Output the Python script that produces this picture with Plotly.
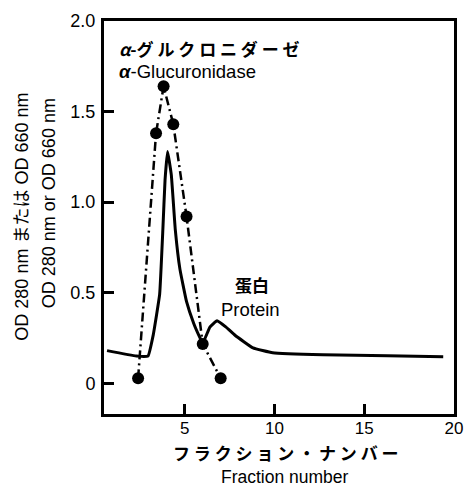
import plotly.graph_objects as go

# Data
protein_x = [0.67, 2.3, 2.95, 3.25, 3.6, 3.78, 3.9, 4.04, 4.25, 4.47, 4.73, 5.1, 5.5, 5.85, 6.0,
             6.4, 6.8, 7.3, 7.8, 8.8, 9.9, 12.7, 16.3, 19.4]
protein_y = [0.18, 0.15, 0.15, 0.27, 0.49, 0.85, 1.12, 1.28, 1.15, 0.85, 0.63, 0.45, 0.33, 0.25, 0.22,
             0.31, 0.345, 0.31, 0.265, 0.195, 0.168, 0.157, 0.152, 0.146]

enzyme_x = [2.4, 3.4, 3.82, 4.36, 5.1, 6.0, 7.0]
enzyme_y = [0.027, 1.38, 1.64, 1.43, 0.92, 0.217, 0.027]

x_tickvals = [5, 10, 15, 20]
y_tickvals = [0, 0.5, 1.0, 1.5, 2.0]
y_ticktext = ["0", "0.5", "1.0", "1.5", "2.0"]

LAT = "Liberation Sans, Noto Sans CJK JP, sans-serif"
JP = "Noto Sans CJK JP, Liberation Sans, sans-serif"

fig = go.Figure()
fig.add_trace(go.Scatter(x=protein_x, y=protein_y, mode="lines",
                         line=dict(color="black", width=3, shape="spline", smoothing=0.3),
                         showlegend=False, hoverinfo="skip"))
fig.add_trace(go.Scatter(x=enzyme_x, y=enzyme_y, mode="lines+markers",
                         line=dict(color="black", width=2.5, dash="9px,4px,2px,4px"),
                         marker=dict(color="black", size=12),
                         showlegend=False, hoverinfo="skip"))

L, R, T, B = 104, 11, 14, 75
W, H = 474, 489
pw, ph = W - L - R, H - T - B

def px(xp):
    return (xp - L) / pw

def py(yp):
    return (H - B - yp) / ph

ann = []
ann.append(dict(text="<b><i>α</i>-グ ル ク ロ ニ ダ ー ゼ</b>", x=px(117), y=py(42), xanchor="left", yanchor="middle",
                font=dict(family=JP, size=17, color="black")))
ann.append(dict(text="<i><b>α</b></i>-Glucuronidase", x=px(117), y=py(65), xanchor="left", yanchor="middle",
                font=dict(family=LAT, size=18.5, color="black")))
ann.append(dict(text="<b>蛋白</b>", x=px(256), y=py(282), xanchor="center", yanchor="middle",
                font=dict(family=JP, size=17, color="black")))
ann.append(dict(text="Protein", x=px(254), y=py(308), xanchor="center", yanchor="middle",
                font=dict(family=LAT, size=18.5, color="black")))
ann.append(dict(text="OD 280 nm または OD 660 nm", x=px(19), y=py(213), xanchor="center", yanchor="middle",
                textangle=-90, font=dict(family=LAT, size=18, color="black")))
ann.append(dict(text="OD 280 nm or OD 660 nm", x=px(47), y=py(199), xanchor="center", yanchor="middle",
                textangle=-90, font=dict(family=LAT, size=18, color="black")))
ann.append(dict(text="<b>フ ラ ク シ ョ ン ・ ナ ン バ ー</b>", x=px(291), y=py(453), xanchor="center", yanchor="middle",
                font=dict(family=JP, size=17, color="black")))
ann.append(dict(text="Fraction number", x=px(290), y=py(478), xanchor="center", yanchor="middle",
                font=dict(family=LAT, size=17.5, color="black")))
for a in ann:
    a.update(xref="paper", yref="paper", showarrow=False)

fig.update_layout(
    width=W, height=H,
    margin=dict(l=L, r=R, t=T, b=B, pad=0),
    paper_bgcolor="white", plot_bgcolor="white",
    annotations=ann,
    font=dict(family=LAT, size=17, color="black"),
)
fig.update_xaxes(range=[0.5, 20], tickvals=x_tickvals, ticks="inside", ticklen=10, tickwidth=3,
                 tickcolor="black", showline=True, linecolor="black", linewidth=3, mirror=True,
                 showgrid=False, zeroline=False, tickfont=dict(family=LAT, size=17), ticklabelstandoff=-3)
fig.update_yaxes(range=[-0.17, 2.0], tickvals=y_tickvals, ticktext=y_ticktext, ticks="inside", ticklen=10,
                 tickwidth=3, tickcolor="black", showline=True, linecolor="black", linewidth=3, mirror=True,
                 showgrid=False, zeroline=False, tickfont=dict(family=LAT, size=18), ticklabelstandoff=2)

fig.write_html("out.html")
